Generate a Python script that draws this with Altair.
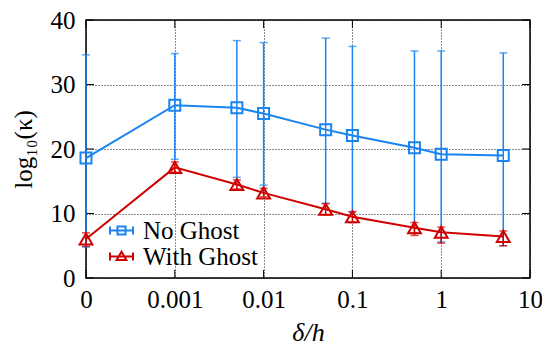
import altair as alt
import pandas as pd

# ---- data ----
delta = [0, 0.001, 0.005, 0.01, 0.05, 0.1, 0.5, 1, 5]
series_names = ["No Ghost", "With Ghost"]
ng_mean = [18.6, 26.8, 26.4, 25.5, 23.0, 22.1, 20.2, 19.2, 19.0]
ng_hi = [34.6, 34.8, 36.8, 36.5, 37.2, 35.9, 35.2, 35.2, 34.9]
ng_lo = [4.8, 18.4, 15.6, 14.4, 11.6, 10.2, 7.0, 5.6, 5.0]
wg_mean = [6.05, 17.15, 14.5, 13.2, 10.65, 9.5, 7.8, 7.1, 6.45]
wg_hi = [7.0, 18.0, 15.2, 13.9, 11.5, 10.3, 8.6, 7.9, 7.3]
wg_lo = [4.9, 16.4, 13.8, 12.6, 9.8, 8.6, 6.6, 5.4, 5.0]

x_tick_values = [-4, -3, -2, -1, 0, 1]          # log10 positions (0 drawn at 1e-4)
x_tick_labels = ["0", "0.001", "0.01", "0.1", "1", "10"]
y_tick_values = [0, 10, 20, 30, 40]

colors = ["#1a84f0", "#d00000"]
FONT = "'Liberation Serif', 'DejaVu Serif', serif"

rows = []
for name, m, lo, hi in [("No Ghost", ng_mean, ng_lo, ng_hi),
                        ("With Ghost", wg_mean, wg_lo, wg_hi)]:
    for d, a, b, c in zip(delta, m, lo, hi):
        rows.append(dict(series=name, delta=d, mean=a, lo=b, hi=c))
df = pd.DataFrame(rows)

W, H = 444, 258
XDOM = [-4, 1]
YDOM = [0, 40]

label_js = "[" + ",".join("'%s'" % s for s in x_tick_labels) + "]"

x_axis = alt.Axis(values=x_tick_values, labelExpr=label_js + "[round(datum.value)+4]",
                  grid=True, gridDash=[1, 2], gridColor="black", gridOpacity=0.9,
                  ticks=False, domain=False, labelFont=FONT, labelFontSize=25,
                  labelColor="black", labelPadding=9, labelFlush=False,
                  title="δ/h", titleFont=FONT, titleFontSize=26, titleFontStyle="italic",
                  titleFontWeight="normal", titleColor="black", titlePadding=7)
y_axis = alt.Axis(values=y_tick_values, grid=True, gridDash=[1, 2], gridColor="black",
                  gridOpacity=0.9, ticks=False, domain=False, labelFont=FONT,
                  labelFontSize=25, labelColor="black", labelPadding=11, labelFlush=False,
                  title="log₁₀(κ)", titleFont=FONT, titleFontSize=25,
                  titleFontWeight="normal", titleColor="black", titlePadding=14)

xs = alt.Scale(domain=XDOM, nice=False, zero=False)
ys = alt.Scale(domain=YDOM, nice=False, zero=False)

def X():
    return alt.X("xpos:Q", scale=xs, axis=x_axis)

def Yf(field):
    return alt.Y(field + ":Q", scale=ys, axis=y_axis)

base = alt.Chart(df).transform_calculate(
    xpos="datum.delta > 0 ? log(datum.delta) / LN10 : -4")

def series_layers(name, color, shape, size):
    b = base.transform_filter(alt.datum.series == name)
    bar = b.mark_rule(color=color, strokeWidth=1.5).encode(x=X(), y=Yf("lo"), y2="hi:Q")
    cap_lo = b.mark_tick(color=color, orient="horizontal", size=8, thickness=1.5).encode(
        x=X(), y=Yf("lo"))
    cap_hi = b.mark_tick(color=color, orient="horizontal", size=8, thickness=1.5).encode(
        x=X(), y=Yf("hi"))
    line = b.mark_line(color=color, strokeWidth=2).encode(x=X(), y=Yf("mean"))
    pts = b.mark_point(color=color, shape=shape, size=size, filled=False,
                       strokeWidth=2, opacity=1).encode(x=X(), y=Yf("mean"))
    return [bar, cap_lo, cap_hi, line, pts]

# inward frame ticks, built from tick values
tlx = 8 * (XDOM[1] - XDOM[0]) / W
tly = 8 * (YDOM[1] - YDOM[0]) / H
tick_rows = []
for v in x_tick_values:
    tick_rows.append(dict(x=v, x2=v, y=YDOM[0], y2=YDOM[0] + tly))
    tick_rows.append(dict(x=v, x2=v, y=YDOM[1], y2=YDOM[1] - tly))
for v in y_tick_values:
    tick_rows.append(dict(x=XDOM[0], x2=XDOM[0] + tlx, y=v, y2=v))
    tick_rows.append(dict(x=XDOM[1], x2=XDOM[1] - tlx, y=v, y2=v))
ticks = alt.Chart(pd.DataFrame(tick_rows)).mark_rule(color="black", strokeWidth=1).encode(
    x=alt.X("x:Q", scale=xs, axis=x_axis), x2="x2:Q",
    y=alt.Y("y:Q", scale=ys, axis=y_axis), y2="y2:Q")

sq_path = "M-1,0H1M-1,-0.35V0.35M1,-0.35V0.35M-0.35,-0.35H0.35V0.35H-0.35Z"
tri_path = "M-1,0H1M-1,-0.35V0.35M1,-0.35V0.35M-0.42,0.3L0,-0.42L0.42,0.3Z"
leg = alt.Legend(title=None, orient="none", legendX=23, legendY=198, padding=0,
                 labelFont=FONT, labelFontSize=25, labelColor="black", labelOffset=9,
                 symbolSize=529, symbolStrokeWidth=2, symbolOpacity=1, rowPadding=-3,
                 symbolFillColor="transparent")
legend_layer = base.mark_point(opacity=0, filled=False).encode(
    x=X(), y=Yf("mean"),
    stroke=alt.Stroke("series:N", scale=alt.Scale(domain=series_names, range=colors),
                      legend=leg),
    shape=alt.Shape("series:N", scale=alt.Scale(domain=series_names,
                                                range=[sq_path, tri_path]), legend=leg))

layers = [ticks] + series_layers("No Ghost", colors[0], "square", 121) \
    + series_layers("With Ghost", colors[1], "triangle-up", 165) + [legend_layer]

chart = alt.layer(*layers).properties(
    width=W, height=H,
    autosize=alt.AutoSizeParams(type="none"),
    padding={"left": 86, "top": 20, "right": 12, "bottom": 74},
    background="white",
).configure_view(stroke="black", strokeWidth=1.5)

chart.save("out.html", embed_options={"renderer": "svg", "actions": False})
